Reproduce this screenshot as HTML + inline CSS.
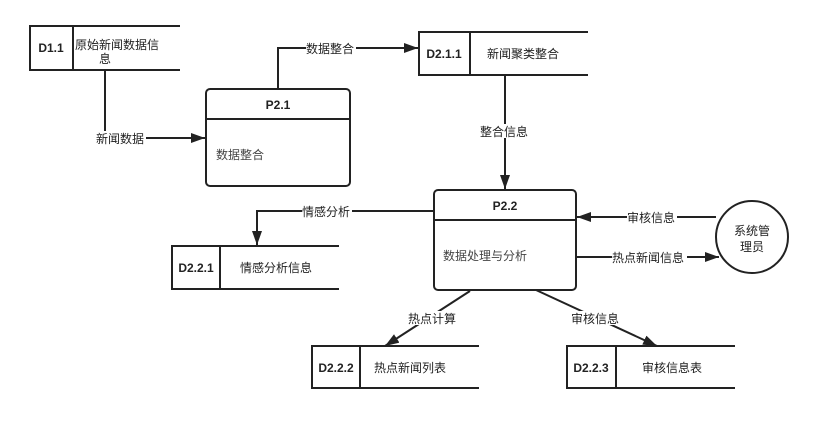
<!DOCTYPE html>
<html><head><meta charset="utf-8"><style>
body{margin:0;background:#fff}
svg{display:block}
text{font-family:"Liberation Sans","Noto Sans CJK SC",sans-serif;fill:#222}
.b{font-weight:bold;font-size:12px}
.t{font-size:12px}
.l{font-size:12px}
</style></head><body>
<svg width="825" height="424" viewBox="0 0 825 424">
<defs>
<marker id="a2" markerWidth="14" markerHeight="10" refX="14" refY="5" orient="auto" markerUnits="userSpaceOnUse"><path d="M0,0L14,5L0,10z" fill="#222"/></marker></defs>
<g stroke="#222" stroke-width="2" fill="none">
<path d="M180,26H30V70H180M73,26V70"/>
<path d="M588,32H419V75H588M470,32V75"/>
<path d="M339,246H172V289H339M220,246V289"/>
<path d="M479,346H312V388H479M360,346V388"/>
<path d="M735,346H567V388H735M616,346V388"/>
<rect x="206" y="89" width="144" height="97" rx="4"/>
<path d="M206,119H350"/>
<rect x="434" y="190" width="142" height="100" rx="4"/>
<path d="M434,220H576"/>
<circle cx="752" cy="237" r="36"/>
<path d="M105,70V138H205" marker-end="url(#a2)"/>
<path d="M278,89V48H418" marker-end="url(#a2)"/>
<path d="M505,75V189" marker-end="url(#a2)"/>
<path d="M434,211H257V245" marker-end="url(#a2)"/>
<path d="M716,217H577" marker-end="url(#a2)"/>
<path d="M577,257H719" marker-end="url(#a2)"/>
<path d="M470,291L385,346" marker-end="url(#a2)"/>
<path d="M536,290L657,346" marker-end="url(#a2)"/>
</g>
<g>
<rect x="96" y="131" width="50" height="14" fill="#fff"/>
<text class="l" x="96" y="143">新闻数据</text>
<rect x="306" y="41" width="50" height="14" fill="#fff"/>
<text class="l" x="306" y="53">数据整合</text>
<rect x="480" y="124" width="50" height="14" fill="#fff"/>
<text class="l" x="480" y="136">整合信息</text>
<rect x="302" y="204" width="50" height="14" fill="#fff"/>
<text class="l" x="302" y="216">情感分析</text>
<rect x="627" y="210" width="50" height="14" fill="#fff"/>
<text class="l" x="627" y="222">审核信息</text>
<rect x="612" y="250" width="75" height="14" fill="#fff"/>
<text class="l" x="612" y="262">热点新闻信息</text>
<rect x="408" y="311" width="50" height="14" fill="#fff"/>
<text class="l" x="408" y="323">热点计算</text>
<rect x="571" y="311" width="50" height="14" fill="#fff"/>
<text class="l" x="571" y="323">审核信息</text>
</g>
<text class="b" x="51" y="52" text-anchor="middle">D1.1</text>
<text class="t" x="75" y="49">原始新闻数据信</text>
<text class="t" x="99" y="63">息</text>
<text class="b" x="444" y="58" text-anchor="middle">D2.1.1</text>
<text class="t" x="523" y="58" text-anchor="middle">新闻聚类整合</text>
<text class="b" x="196" y="272" text-anchor="middle">D2.2.1</text>
<text class="t" x="276" y="272" text-anchor="middle">情感分析信息</text>
<text class="b" x="336" y="372" text-anchor="middle">D2.2.2</text>
<text class="t" x="410" y="372" text-anchor="middle">热点新闻列表</text>
<text class="b" x="591" y="372" text-anchor="middle">D2.2.3</text>
<text class="t" x="672" y="372" text-anchor="middle">审核信息表</text>
<text class="b" x="278" y="109" text-anchor="middle">P2.1</text>
<text class="t" x="216" y="159" style="fill:#444">数据整合</text>
<text class="b" x="505" y="210" text-anchor="middle">P2.2</text>
<text class="t" x="443" y="260" style="fill:#444">数据处理与分析</text>
<text class="t" x="752" y="235" text-anchor="middle">系统管</text>
<text class="t" x="752" y="251" text-anchor="middle">理员</text>
</svg>
</body></html>
